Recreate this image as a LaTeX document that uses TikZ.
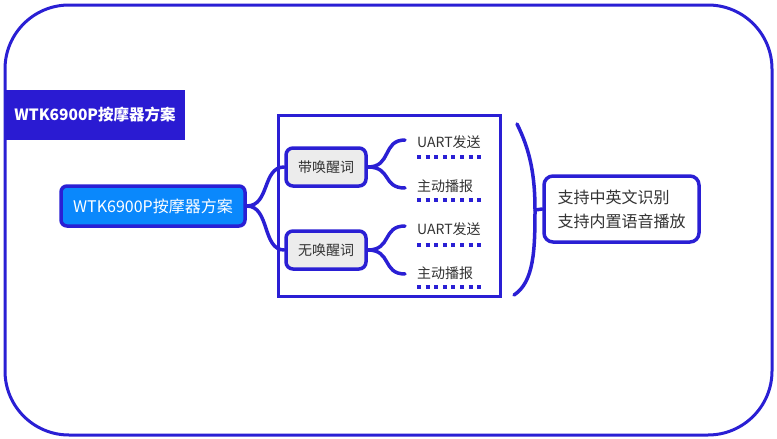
\documentclass[tikz,border=0pt]{standalone}
\usepackage{fontspec}
\setmainfont{Noto Sans CJK SC}
\usetikzlibrary{calc}
\definecolor{frameblue}{HTML}{2A1FD4}
\definecolor{titleblue}{HTML}{2A1BD2}
\definecolor{mainfill}{HTML}{0A88FC}
\definecolor{subfill}{HTML}{ECECEC}
\definecolor{txtgray}{HTML}{333333}
\tikzset{
  frame/.style={draw=frameblue, line width=3pt, rounded corners=64pt},
  titlebox/.style={fill=titleblue, text=white, font=\bfseries\fontsize{15.5}{18}\selectfont, minimum width=180pt, minimum height=50pt, inner sep=0pt},
  mainnode/.style={draw=frameblue, fill=mainfill, text=white, line width=3.5pt, rounded corners=6pt, minimum width=184pt, minimum height=40pt, inner sep=0pt, font=\fontsize{16}{19}\selectfont},
  subnode/.style={draw=frameblue, fill=subfill, text=txtgray, line width=3.5pt, rounded corners=7pt, minimum width=80pt, minimum height=38pt, inner sep=0pt, font=\fontsize{14}{17}\selectfont},
  leaf/.style={text=txtgray, anchor=west, inner sep=0pt, font=\fontsize{14}{17}\selectfont},
  innerbox/.style={draw=frameblue, line width=3pt, minimum width=222pt, minimum height=181pt, inner sep=0pt},
  conn/.style={draw=frameblue, line width=3.5pt, line cap=round},
  dotline/.style={draw=frameblue, line width=3.5pt, dash pattern=on 4pt off 4.6pt},
  notebox/.style={draw=frameblue, fill=white, text=txtgray, line width=3.5pt, rounded corners=9pt, minimum width=155pt, minimum height=66pt, inner sep=0pt, align=left, font=\fontsize{16}{24}\selectfont},
}
\begin{document}
\begin{tikzpicture}[x=1pt,y=-1pt]
\useasboundingbox (0,0) rectangle (777,439);
\fill[white] (0,0) rectangle (777,439);
\draw[frame] (5,5) rectangle (772,435);
\node[titlebox] (title) at (95,115) {WTK6900P按摩器方案};
\node[innerbox] (inner) at (389.5,206) {};
\node[mainnode] (main) at (153,206) {WTK6900P按摩器方案};
\node[subnode] (s1) at (326,167) {带唤醒词};
\node[subnode] (s2) at (326,250) {无唤醒词};
\node[leaf] (l1) at (417,142) {UART发送};
\node[leaf] (l2) at (417,186) {主动播报};
\node[leaf] (l3) at (417,229) {UART发送};
\node[leaf] (l4) at (417,273) {主动播报};
\coordinate (e1) at (405,140);
\coordinate (e2) at (405,188);
\coordinate (e3) at (405,226);
\coordinate (e4) at (405,274);
\draw[conn] (main.east) .. controls (270,206) and (262,167) .. (s1.west);
\draw[conn] (main.east) .. controls (270,206) and (262,250) .. (s2.west);
\draw[conn] (s1.east) .. controls (392,167) and (382,140) .. (e1);
\draw[conn] (s1.east) .. controls (392,167) and (382,188) .. (e2);
\draw[conn] (s2.east) .. controls (392,250) and (382,226) .. (e3);
\draw[conn] (s2.east) .. controls (392,250) and (382,274) .. (e4);
\coordinate (d1a) at (417,157); \coordinate (d1b) at (484,157);
\coordinate (d2a) at (417,200); \coordinate (d2b) at (484,200);
\coordinate (d3a) at (417,245); \coordinate (d3b) at (484,245);
\coordinate (d4a) at (417,287); \coordinate (d4b) at (484,287);
\draw[dotline] (d1a) -- (d1b);
\draw[dotline] (d2a) -- (d2b);
\draw[dotline] (d3a) -- (d3b);
\draw[dotline] (d4a) -- (d4b);
\coordinate (bt) at (517,124);
\coordinate (bm) at (535,210);
\coordinate (bb) at (514,295);
\draw[conn] (bt) .. controls (530,150) and (535,175) .. (bm) .. controls (535,250) and (534,282) .. (bb);
\node[notebox] (note) at (621.5,209) {支持中英文识别\\支持内置语音播放};
\draw[conn] (bm) -- (note.west);
\end{tikzpicture}
\end{document}
